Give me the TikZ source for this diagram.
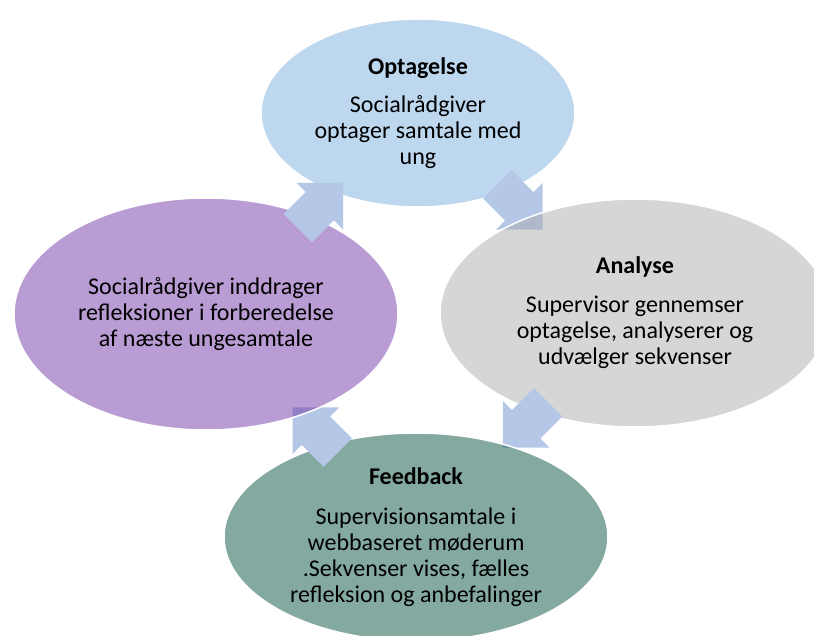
\documentclass[tikz,border=0pt]{standalone}
\usepackage{fontspec}
\setmainfont{Carlito}
\usetikzlibrary{shapes.geometric,calc}
\definecolor{optBlue}{RGB}{189,215,238}
\definecolor{arrowBlue}{RGB}{180,199,231}
\definecolor{anaGray}{RGB}{173,173,173}
\definecolor{fbTeal}{RGB}{9,83,67}
\definecolor{refPurple}{RGB}{113,57,167}

\begin{document}
\begin{tikzpicture}[x=1pt,y=-1pt,
    cyclebox/.style={ellipse, draw=white, line width=1.5pt, inner sep=0pt, align=center, text=black, font=\fontsize{24}{26}\selectfont},
    seethrough/.style={fill=#1, fill opacity=0.5, text opacity=1},
    blockarrow/.pic={\fill[arrowBlue] (-32,-20) -- (-1,-20) -- (-1,-33) -- (32,0) -- (-1,33) -- (-1,20) -- (-32,20) -- cycle;}]
        \clip (0,0) rectangle (814,636);

        % centres of the four steps
        \coordinate (c_opt) at (418,113);
        \coordinate (c_ana) at (635,313);
        \coordinate (c_fb) at (416,537);
        \coordinate (c_ref) at (206,314);

        % Optagelse (top)
        \node[cyclebox, fill=optBlue, minimum width=314pt, minimum height=188pt] (optagelse) at (c_opt) {\textbf{Optagelse}\\[12pt]Socialrådgiver\\optager samtale med\\ung};
        \pic[rotate=-45] (arr_opt_ana) at ($(c_opt)!0.47!(c_ana)$) {blockarrow};

        % Analyse (right)
        \node[cyclebox, seethrough=anaGray, minimum width=390pt, minimum height=228pt] (analyse) at (c_ana) {\textbf{Analyse}\\[13pt]Supervisor gennemser\\optagelse, analyserer og\\udvælger sekvenser};
        \pic[rotate=-135] (arr_ana_fb) at ($(c_ana)!0.5!(c_fb)$) {blockarrow};

        % Feedback (bottom)
        \node[cyclebox, seethrough=fbTeal, minimum width=384pt, minimum height=208pt] (feedback) at (c_fb) {\textbf{Feedback}\\[14pt]Supervisionsamtale i\\webbaseret møderum\\.Sekvenser vises, fælles\\refleksion og anbefalinger};
        \pic[rotate=135] (arr_fb_ref) at ($(c_fb)!0.48!(c_ref)$) {blockarrow};

        % Refleksion (left)
        \node[cyclebox, seethrough=refPurple, minimum width=384pt, minimum height=232pt] (refleksion) at (c_ref) {Socialrådgiver inddrager\\refleksioner i forberedelse\\af næste ungesamtale};
        \pic[rotate=45] (arr_ref_opt) at ($(c_ref)!0.54!(c_opt)$) {blockarrow};

\end{tikzpicture}
\end{document}
